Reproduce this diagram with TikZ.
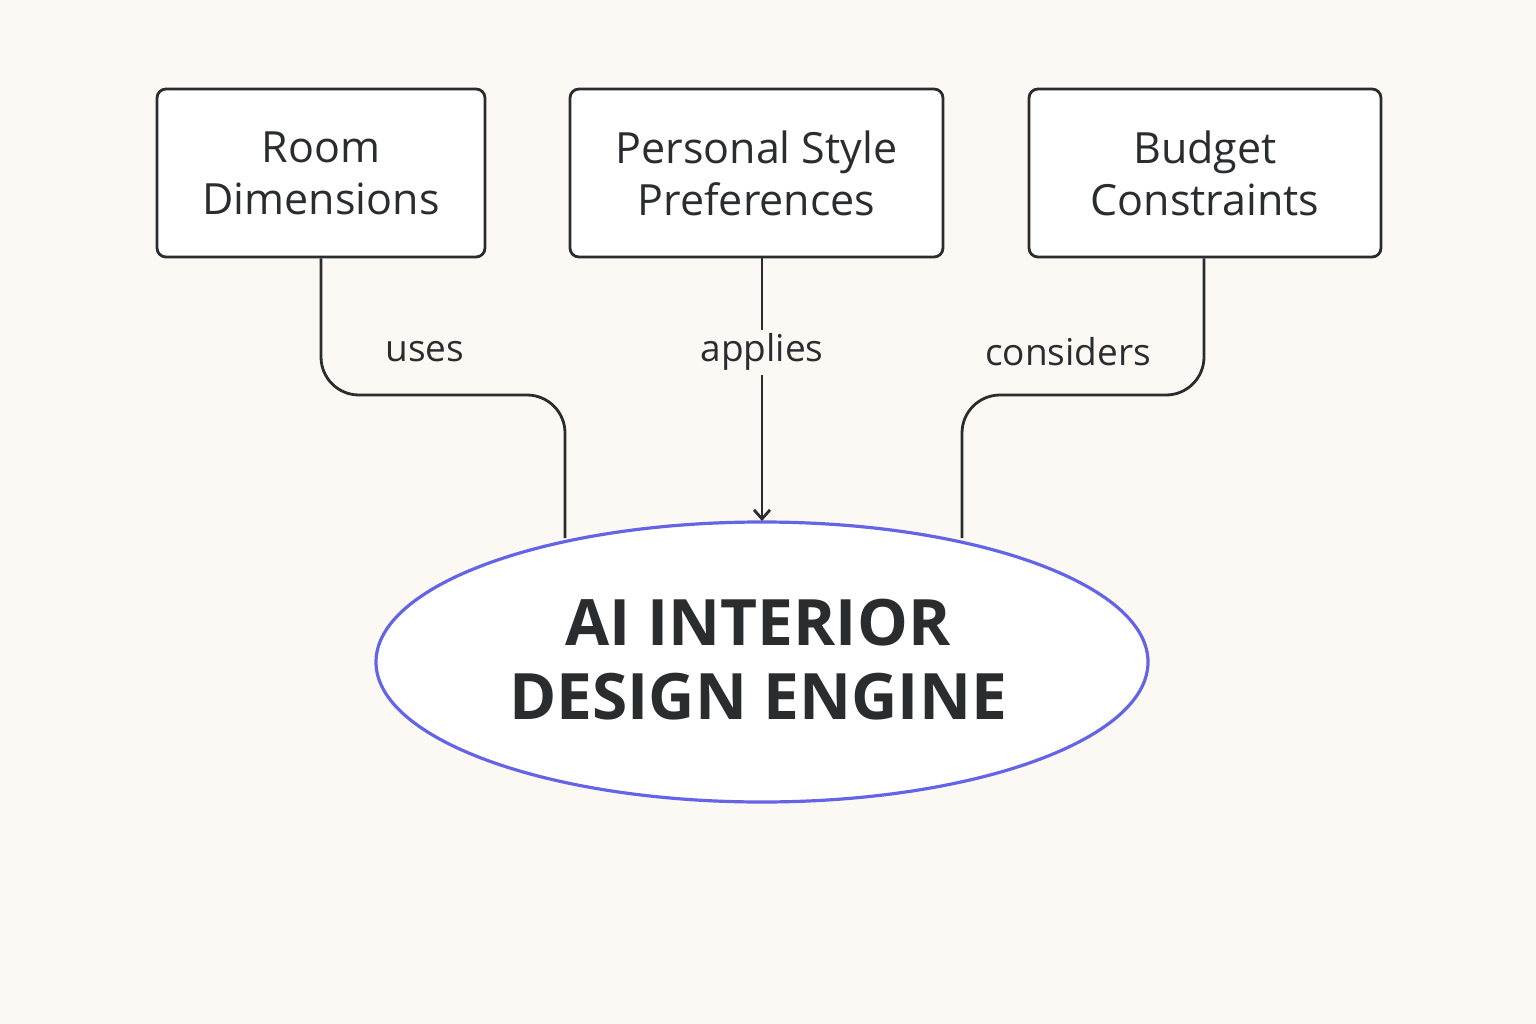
\documentclass[tikz,border=0pt]{standalone}
\usepackage{fontspec}
\setmainfont{Open Sans}
\usetikzlibrary{shapes.geometric,arrows.meta}
\definecolor{bg}{HTML}{FCF9F5}
\definecolor{ink}{HTML}{2A2C2E}
\definecolor{blu}{HTML}{6464E6}
\begin{document}
\begin{tikzpicture}[x=1pt,y=-1pt,
  box/.style={draw=ink,line width=2.8pt,rounded corners=9pt,fill=white,minimum width=#1,minimum height=168pt,align=center,font=\fontsize{43}{52}\selectfont,text=ink},
  lab/.style={font=\fontsize{37}{40}\selectfont,text=ink,fill=bg,inner sep=4pt},
  wire/.style={draw=ink,line width=2.8pt,rounded corners=38pt}]
\fill[bg] (0,0) rectangle (1536,1024);
\useasboundingbox (0,0) rectangle (1536,1024);
\node[box=328pt] (room) at (321,173) {Room\\Dimensions};
\node[box=373pt] (pers) at (756.5,173) {Personal Style\\Preferences};
\node[box=352pt] (bud) at (1205,173) {Budget\\Constraints};
\node[ellipse,draw=blu,line width=3.2pt,fill=white,minimum width=772pt,minimum height=280pt,inner sep=0pt] (eng) at (762,662) {};
\node[align=center,font=\bfseries\fontsize{64}{74}\selectfont,text=ink] (t) at (758,660) {AI INTERIOR\\DESIGN ENGINE};
\coordinate (l1) at (321,395); \coordinate (l2) at (565,395); \coordinate (l3) at (565,538);
\coordinate (r1) at (1204,395); \coordinate (r2) at (962,395); \coordinate (r3) at (962,538);
\coordinate (m) at (762,521);
\path[wire] (room.south -| l1) -- (l1) -- (l2) -- (l3);
\path[wire] (r1 |- bud.south) -- (r1) -- (r2) -- (r3);
\draw[ink,line width=2.8pt,-{Straight Barb[length=9pt,width=16pt]}] (pers.south -| m) -- (m);
\node[lab] (a) at (762,352) {applies};
\node[text=ink,font=\fontsize{37}{40}\selectfont] (u) at (425,352) {uses};
\node[text=ink,font=\fontsize{37}{40}\selectfont] (c) at (1068,352) {considers};
\end{tikzpicture}
\end{document}
